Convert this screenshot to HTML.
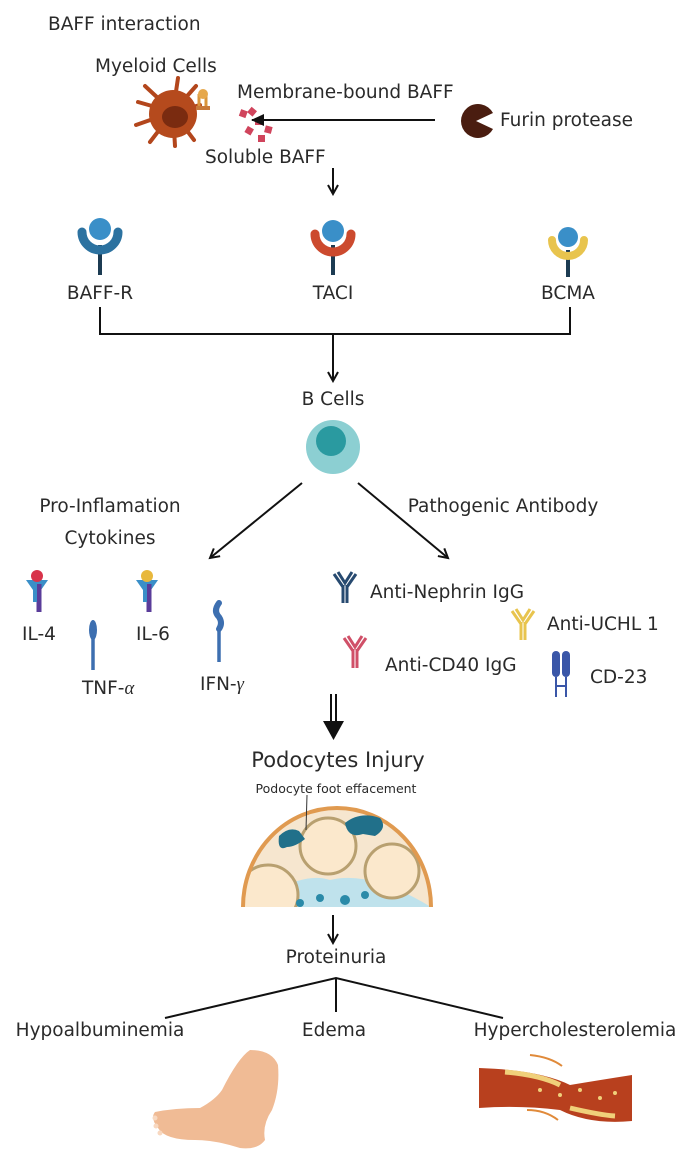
<!DOCTYPE html>
<html><head><meta charset="utf-8"><style>
html,body{margin:0;padding:0;background:#fff;}
svg{display:block;}
text{font-family:"DejaVu Sans","Liberation Sans",sans-serif;fill:#2a2a2a;}
</style></head><body>
<svg width="693" height="1169" viewBox="0 0 693 1169" xmlns="http://www.w3.org/2000/svg">
<defs>
<marker id="oa" markerWidth="12" markerHeight="12" refX="10" refY="6" orient="auto" markerUnits="userSpaceOnUse">
<path d="M1,1 L10,6 L1,11" fill="none" stroke="#111" stroke-width="2"/></marker>
<marker id="fa" markerWidth="14" markerHeight="12" refX="12" refY="6" orient="auto" markerUnits="userSpaceOnUse">
<path d="M0,0 L13,6 L0,12 Z" fill="#111"/></marker>
<clipPath id="gc"><path d="M243 907 A94 99 0 0 1 431 907 Z"/></clipPath>
</defs>

<text x="48" y="30" font-size="18.5">BAFF interaction</text>
<text x="95" y="72" font-size="18.5">Myeloid Cells</text>
<text x="237" y="98" font-size="18.5">Membrane-bound BAFF</text>
<text x="205" y="163" font-size="18.5">Soluble BAFF</text>
<text x="500" y="126" font-size="18.5">Furin protease</text>

<!-- myeloid cell -->
<g stroke="#b3461c" stroke-width="4" stroke-linecap="round">
<line x1="173" y1="112" x2="178" y2="78"/><line x1="173" y1="112" x2="196" y2="86"/>
<line x1="173" y1="112" x2="145" y2="86"/><line x1="173" y1="112" x2="138" y2="102"/>
<line x1="173" y1="112" x2="136" y2="125"/><line x1="173" y1="112" x2="150" y2="142"/>
<line x1="173" y1="112" x2="175" y2="146"/><line x1="173" y1="112" x2="194" y2="140"/>
<line x1="173" y1="112" x2="200" y2="105"/>
</g>
<circle cx="173" cy="114" r="24" fill="#b54a1d"/>
<ellipse cx="175" cy="117" rx="13" ry="11" fill="#7a2b10"/>
<rect x="196" y="106" width="14" height="4" fill="#c87a3a"/>
<path d="M199 106 v-12 M206 106 v-12" stroke="#d9953c" stroke-width="3"/>
<circle cx="203" cy="94" r="5" fill="#e6a84c"/>
<!-- soluble BAFF -->
<g fill="#d0445c">
<rect x="240" y="110" width="7" height="7" transform="rotate(20 243 113)"/>
<rect x="249" y="108" width="7" height="7" transform="rotate(40 252 111)"/>
<rect x="255" y="118" width="7" height="7"/>
<rect x="246" y="127" width="7" height="7" transform="rotate(30 249 130)"/>
<rect x="265" y="126" width="7" height="7" transform="rotate(15 268 129)"/>
<rect x="258" y="135" width="7" height="7"/>
</g>
<line x1="435" y1="120" x2="252" y2="120" stroke="#111" stroke-width="2" marker-end="url(#fa)"/>
<path d="M476 121 L493 113 A17 17 0 1 0 493 129 Z" fill="#4a1d10"/>

<line x1="333" y1="168" x2="333" y2="194" stroke="#111" stroke-width="2" marker-end="url(#oa)"/>

<!-- receptors -->
<g>
<line x1="100" y1="245" x2="100" y2="275" stroke="#1c3b52" stroke-width="4"/>
<path d="M82 232 A18 18 0 0 0 118 232" fill="none" stroke="#2c72a0" stroke-width="9" stroke-linecap="round"/>
<circle cx="100" cy="229" r="11" fill="#3a8fc8"/>
<line x1="333" y1="245" x2="333" y2="275" stroke="#1c3b52" stroke-width="4"/>
<path d="M315 234 A18 18 0 0 0 351 234" fill="none" stroke="#cc4a2e" stroke-width="9" stroke-linecap="round"/>
<circle cx="333" cy="231" r="11" fill="#3a8fc8"/>
<line x1="568" y1="250" x2="568" y2="277" stroke="#1c3b52" stroke-width="4"/>
<path d="M552 240 A16 16 0 0 0 584 240" fill="none" stroke="#e8c44e" stroke-width="8" stroke-linecap="round"/>
<circle cx="568" cy="237" r="10" fill="#3a8fc8"/>
</g>
<text x="100" y="299" font-size="18.5" text-anchor="middle">BAFF-R</text>
<text x="333" y="299" font-size="18.5" text-anchor="middle">TACI</text>
<text x="568" y="299" font-size="18.5" text-anchor="middle">BCMA</text>

<path d="M100 307 V334 H570 V307" fill="none" stroke="#111" stroke-width="2"/>
<line x1="333" y1="334" x2="333" y2="381" stroke="#111" stroke-width="2" marker-end="url(#oa)"/>
<text x="333" y="405" font-size="18.5" text-anchor="middle">B Cells</text>
<circle cx="333" cy="447" r="27" fill="#8ccfd2"/>
<circle cx="331" cy="441" r="15" fill="#2a9aa0"/>

<line x1="302" y1="483" x2="210" y2="558" stroke="#111" stroke-width="2" marker-end="url(#oa)"/>
<line x1="358" y1="483" x2="448" y2="558" stroke="#111" stroke-width="2" marker-end="url(#oa)"/>
<text x="110" y="512" font-size="18.5" text-anchor="middle">Pro-Inflamation</text>
<text x="110" y="544" font-size="18.5" text-anchor="middle">Cytokines</text>
<text x="503" y="512" font-size="18.5" text-anchor="middle">Pathogenic Antibody</text>

<!-- cytokines -->
<g>
<path d="M26 580 h22 l-7 10 h-8z" fill="#3a8fc8"/>
<line x1="39" y1="584" x2="39" y2="612" stroke="#5a3c9a" stroke-width="5"/>
<line x1="35" y1="584" x2="35" y2="602" stroke="#3a8fc8" stroke-width="4"/>
<circle cx="37" cy="576" r="6" fill="#d8334a"/>
<text x="22" y="640" font-size="18.5">IL-4</text>
<path d="M136 580 h22 l-7 10 h-8z" fill="#3a8fc8"/>
<line x1="149" y1="584" x2="149" y2="612" stroke="#5a3c9a" stroke-width="5"/>
<line x1="145" y1="584" x2="145" y2="602" stroke="#3a8fc8" stroke-width="4"/>
<circle cx="147" cy="576" r="6" fill="#e8b83c"/>
<text x="136" y="640" font-size="18.5">IL-6</text>
<ellipse cx="93" cy="630" rx="4" ry="10" fill="#3d6fb0"/>
<line x1="93" y1="635" x2="93" y2="670" stroke="#3d6fb0" stroke-width="3.5"/>
<text x="82" y="694" font-size="18.5">TNF-<tspan font-family="Liberation Serif" font-style="italic">α</tspan></text>
<path d="M219 603 q-6 8 0 14 q4 6 0 12" fill="none" stroke="#3d6fb0" stroke-width="6" stroke-linecap="round"/>
<line x1="219" y1="627" x2="219" y2="662" stroke="#3d6fb0" stroke-width="3.5"/>
<text x="200" y="690" font-size="18.5">IFN-<tspan font-family="Liberation Serif" font-style="italic">γ</tspan></text>
</g>

<!-- antibodies -->
<g fill="none" stroke-width="3">
<path d="M338 572 l7 11 l7 -11 M334 574 l9 13 M356 574 l-9 13 M343 585 v18 M347 585 v18" stroke="#274a70"/>
<path d="M348 636 l7 11 l7 -11 M344 638 l9 13 M366 638 l-9 13 M353 649 v19 M357 649 v19" stroke="#d05068"/>
<path d="M516 609 l7 11 l7 -11 M512 611 l9 13 M534 611 l-9 13 M521 622 v18 M525 622 v18" stroke="#e8c44e"/>
</g>
<text x="370" y="598" font-size="18.5">Anti-Nephrin IgG</text>
<text x="547" y="630" font-size="18.5">Anti-UCHL 1</text>
<text x="385" y="671" font-size="18.5">Anti-CD40 IgG</text>
<rect x="552" y="651" width="8" height="26" rx="4" fill="#3a56a8"/>
<rect x="562" y="651" width="8" height="26" rx="4" fill="#3a56a8"/>
<path d="M556 677 v20 M566 677 v20 M556 686 h10" stroke="#3a56a8" stroke-width="2" fill="none"/>
<text x="590" y="683" font-size="18.5">CD-23</text>

<!-- double arrow -->
<line x1="331" y1="694" x2="331" y2="724" stroke="#111" stroke-width="2"/>
<line x1="336" y1="694" x2="336" y2="724" stroke="#111" stroke-width="2"/>
<path d="M323 721 H344 L333.5 740 Z" fill="#111"/>
<text x="338" y="767" font-size="21" text-anchor="middle">Podocytes Injury</text>
<text x="336" y="793" font-size="12.5" text-anchor="middle">Podocyte foot effacement</text>

<!-- glomerulus -->
<path d="M243 907 A94 99 0 0 1 431 907 Z" fill="#f6e6cf"/>
<g clip-path="url(#gc)">
<path d="M250 907 Q300 870 330 880 Q370 870 431 907 Z" fill="#bfe2ec"/>
<circle cx="268" cy="895" r="30" fill="#fbe8cc" stroke="#b8a070" stroke-width="3"/>
<circle cx="328" cy="846" r="28" fill="#fbe8cc" stroke="#b8a070" stroke-width="3"/>
<circle cx="392" cy="871" r="27" fill="#fbe8cc" stroke="#b8a070" stroke-width="3"/>
<circle cx="320" cy="898" r="4" fill="#2a8aa8"/><circle cx="345" cy="900" r="5" fill="#2a8aa8"/><circle cx="365" cy="895" r="4" fill="#2a8aa8"/><circle cx="300" cy="903" r="4" fill="#2a8aa8"/>
</g>
<path d="M243 907 A94 99 0 0 1 431 907" fill="none" stroke="#e09a50" stroke-width="4"/>
<path d="M279 836 q10 -10 20 -5 l6 8 q-10 8 -18 8 q-10 5 -8 -11z" fill="#21708a"/>
<path d="M345 823 q15 -12 35 -5 q8 10 -5 18 l-12 -2 q-15 5 -18 -11z" fill="#21708a"/>
<line x1="307" y1="795" x2="306" y2="830" stroke="#333" stroke-width="1"/>

<line x1="333" y1="915" x2="333" y2="943" stroke="#111" stroke-width="2" marker-end="url(#oa)"/>
<text x="336" y="963" font-size="18.5" text-anchor="middle">Proteinuria</text>
<path d="M165 1018 L336 978 L503 1018 M336 978 V1012" fill="none" stroke="#111" stroke-width="2"/>
<text x="100" y="1036" font-size="18.5" text-anchor="middle">Hypoalbuminemia</text>
<text x="334" y="1036" font-size="18.5" text-anchor="middle">Edema</text>
<text x="575" y="1036" font-size="18.5" text-anchor="middle">Hypercholesterolemia</text>

<!-- foot -->
<path d="M250 1050 Q272 1050 278 1065 Q280 1090 272 1110 Q262 1125 265 1140 Q258 1150 240 1148 Q215 1140 195 1140 Q165 1140 158 1128 Q150 1118 155 1112 Q175 1108 200 1108 Q215 1100 222 1090 Q238 1058 250 1050 Z" fill="#f0bb95"/>
<g fill="#f8d8c0"><circle cx="155" cy="1118" r="2.5"/><circle cx="156" cy="1126" r="2.5"/><circle cx="160" cy="1133" r="2.5"/></g>
<!-- vessel -->
<path d="M479 1068 Q540 1070 570 1085 Q600 1080 632 1075 L632 1121 Q590 1125 560 1110 Q520 1105 479 1108 Z" fill="#b8401e"/>
<path d="M505 1072 Q540 1075 560 1085" stroke="#f0d07a" stroke-width="5" fill="none"/>
<path d="M570 1108 Q600 1115 615 1116" stroke="#f0d07a" stroke-width="5" fill="none"/>
<g fill="#f0d07a"><circle cx="560" cy="1095" r="2"/><circle cx="580" cy="1090" r="2"/><circle cx="600" cy="1098" r="2"/><circle cx="540" cy="1090" r="2"/><circle cx="615" cy="1093" r="2"/></g>
<path d="M530 1055 Q550 1057 562 1066" stroke="#e08a3a" stroke-width="2" fill="none"/>
<path d="M527 1110 Q545 1110 558 1120" stroke="#e08a3a" stroke-width="2" fill="none"/>
</svg>
</body></html>
